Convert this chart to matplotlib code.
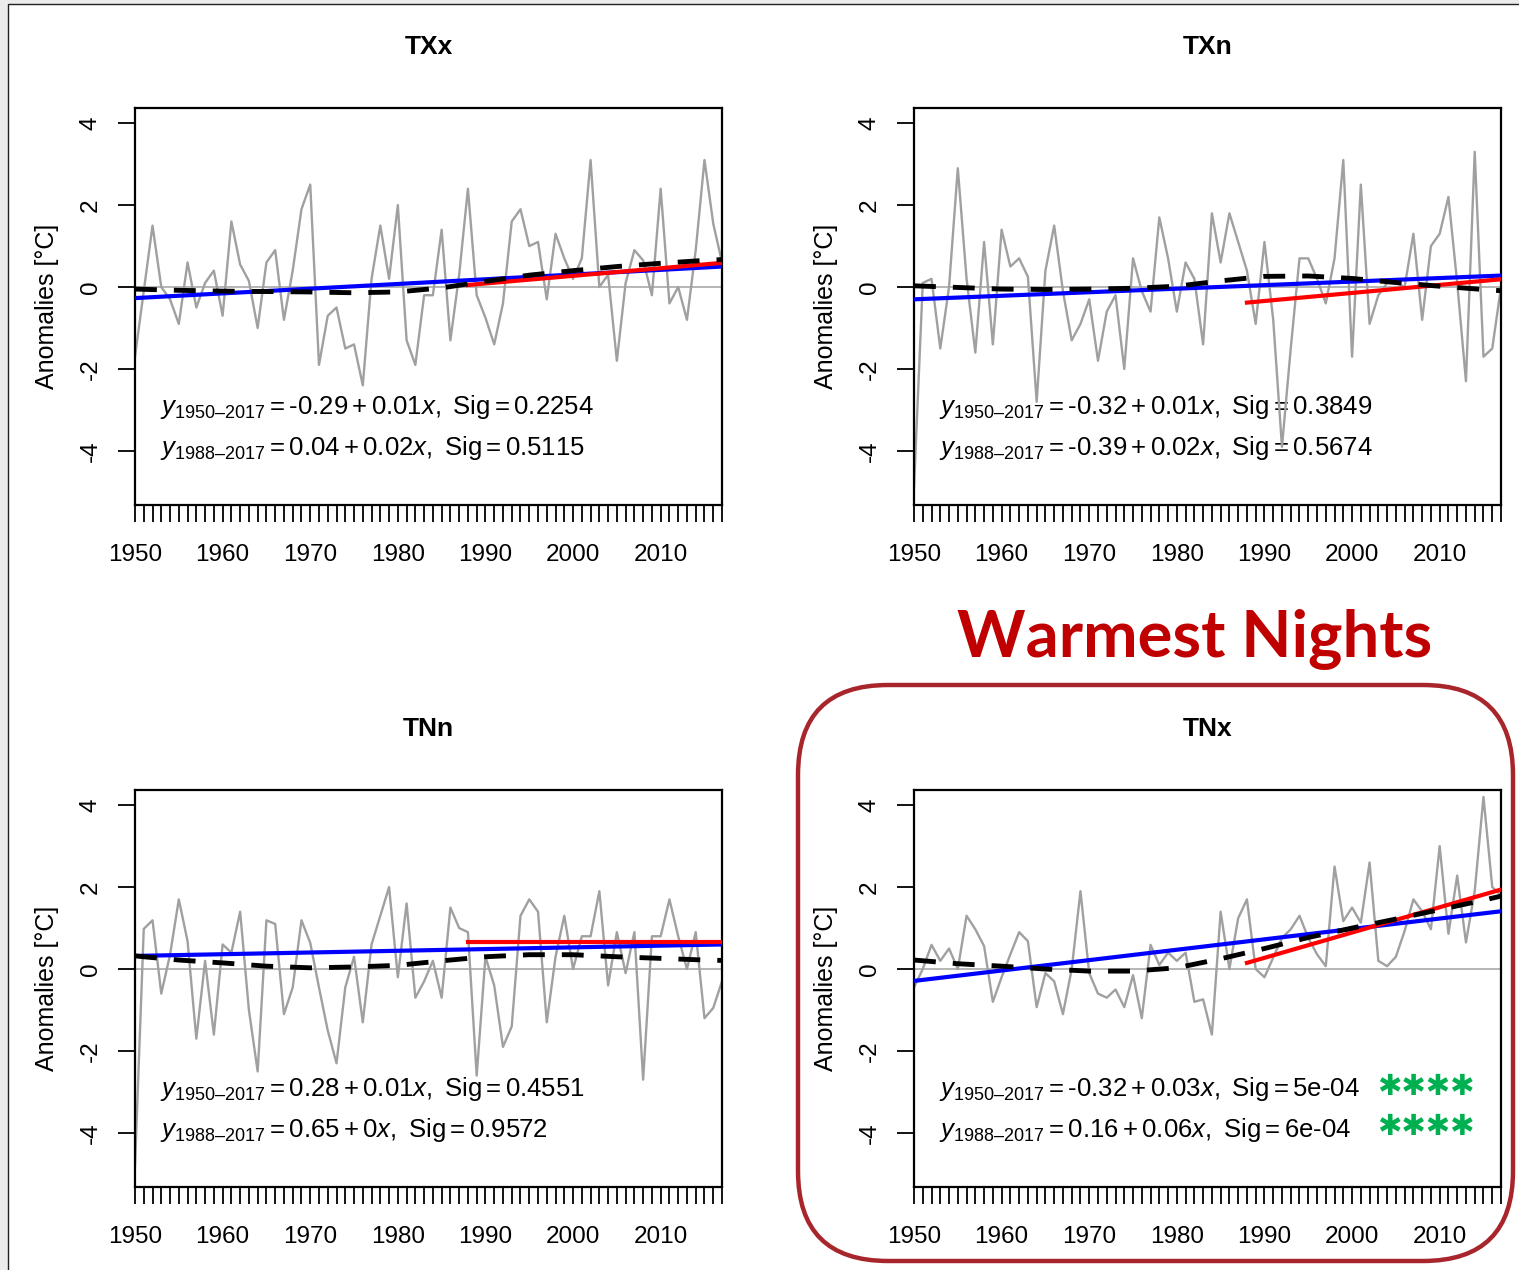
import numpy as np
import matplotlib
matplotlib.use('Agg')
import matplotlib.pyplot as plt
from matplotlib.patches import Rectangle, FancyBboxPatch

plt.rcParams['font.family'] = ['Liberation Sans', 'DejaVu Sans']
plt.rcParams['mathtext.fontset'] = 'custom'
plt.rcParams['mathtext.rm'] = 'Liberation Sans'
plt.rcParams['mathtext.it'] = 'Liberation Sans:italic'

# ---- data ----
years = list(range(1950, 2018))

txx = [-1.7, -0.1, 1.5, 0.0, -0.3, -0.9, 0.6, -0.5, 0.1, 0.4,
       -0.7, 1.6, 0.55, 0.15, -1.0, 0.6, 0.9, -0.8, 0.4, 1.9,
       2.5, -1.9, -0.7, -0.5, -1.5, -1.4, -2.4, 0.2, 1.5, 0.2,
       2.0, -1.3, -1.9, -0.2, -0.2, 1.4, -1.3, 0.3, 2.4, -0.2,
       -0.75, -1.4, -0.4, 1.6, 1.9, 1.0, 1.1, -0.3, 1.3, 0.7,
       0.2, 0.7, 3.1, 0.0, 0.3, -1.8, 0.1, 0.9, 0.65, -0.2,
       2.4, -0.4, 0.0, -0.8, 0.9, 3.1, 1.55, 0.6]

txn = [-4.9, 0.1, 0.2, -1.5, 0.0, 2.9, 0.2, -1.6, 1.1, -1.4,
       1.4, 0.5, 0.7, 0.25, -2.8, 0.4, 1.5, -0.1, -1.3, -0.9,
       -0.3, -1.8, -0.6, -0.2, -2.0, 0.7, -0.1, -0.6, 1.7, 0.7,
       -0.6, 0.6, 0.2, -1.4, 1.8, 0.6, 1.8, 1.1, 0.4, -0.9,
       1.1, -0.8, -3.9, -1.5, 0.7, 0.7, 0.2, -0.4, 0.7, 3.1,
       -1.7, 2.5, -0.9, -0.2, 0.1, 0.1, 0.0, 1.3, -0.8, 1.0,
       1.3, 2.2, 0.1, -2.3, 3.3, -1.7, -1.5, 0.0]

tnn = [-4.8, 0.98, 1.19, -0.6, 0.35, 1.7, 0.68, -1.7, 0.2, -1.6,
       0.6, 0.4, 1.4, -1.0, -2.5, 1.19, 1.1, -1.1, -0.45, 1.19,
       0.64, -0.45, -1.5, -2.3, -0.45, 0.3, -1.3, 0.6, 1.3, 2.0,
       -0.2, 1.6, -0.7, -0.3, 0.2, -0.7, 1.5, 1.0, 0.9, -2.6,
       0.3, -0.4, -1.9, -1.4, 1.3, 1.7, 1.4, -1.3, 0.3, 1.3,
       0.0, 0.8, 0.8, 1.9, -0.4, 0.9, -0.1, 0.9, -2.7, 0.8,
       0.8, 1.7, 0.8, 0.0, 0.9, -1.2, -0.95, -0.3]

tnx = [-0.45, 0.0, 0.59, 0.2, 0.5, 0.0, 1.3, 0.97, 0.56, -0.8,
       -0.2, 0.36, 0.9, 0.68, -0.93, -0.1, -0.3, -1.1, 0.0, 1.9,
       -0.1, -0.6, -0.7, -0.5, -0.93, -0.15, -1.2, 0.59, 0.1, 0.4,
       0.2, 0.4, -0.8, -0.74, -1.6, 1.4, 0.0, 1.24, 1.7, 0.0,
       -0.2, 0.28, 0.76, 0.97, 1.3, 0.76, 0.36, 0.07, 2.5, 1.17,
       1.5, 1.13, 2.6, 0.2, 0.07, 0.3, 0.93, 1.7, 1.41, 0.97,
       3.0, 0.86, 2.28, 0.65, 1.9, 4.2, 2.0, 1.8]

# smoothed curve (dashed), read every 5 years
smooth_years = [1950, 1955, 1960, 1965, 1970, 1975, 1980, 1985,
                1990, 1995, 2000, 2005, 2010, 2015, 2017]
txx_smooth = [-0.05, -0.08, -0.1, -0.11, -0.12, -0.14, -0.12, -0.02,
              0.14, 0.29, 0.40, 0.50, 0.58, 0.65, 0.67]
txn_smooth = [0.03, -0.01, -0.05, -0.06, -0.05, -0.03, 0.02, 0.15,
              0.26, 0.27, 0.21, 0.11, 0.02, -0.06, -0.09]
tnn_smooth = [0.32, 0.22, 0.15, 0.07, 0.03, 0.05, 0.09, 0.20,
              0.30, 0.35, 0.35, 0.30, 0.26, 0.22, 0.21]
tnx_smooth = [0.22, 0.13, 0.07, 0.0, -0.05, -0.05, 0.03, 0.25,
              0.50, 0.77, 1.0, 1.22, 1.45, 1.68, 1.78]

# linear trends: values at the period ends
full_period = [1950, 2017]
recent_period = [1988, 2017]
txx_full, txx_recent = [-0.27, 0.50], [0.05, 0.59]
txn_full, txn_recent = [-0.30, 0.28], [-0.38, 0.19]
tnn_full, tnn_recent = [0.32, 0.60], [0.66, 0.66]
tnx_full, tnx_recent = [-0.29, 1.41], [0.15, 1.94]

titles = ['TXx', 'TXn', 'TNn', 'TNx']
eq_full = [('-0.29', '0.01', '0.2254'), ('-0.32', '0.01', '0.3849'),
           ('0.28', '0.01', '0.4551'), ('-0.32', '0.03', '5e-04')]
eq_recent = [('0.04', '0.02', '0.5115'), ('-0.39', '0.02', '0.5674'),
             ('0.65', '0', '0.9572'), ('0.16', '0.06', '6e-04')]

series = [txx, txn, tnn, tnx]
smooths = [txx_smooth, txn_smooth, tnn_smooth, tnx_smooth]
fulls = [txx_full, txn_full, tnn_full, tnx_full]
recents = [txx_recent, txn_recent, tnn_recent, tnx_recent]

# ---- figure ----
W, H = 1519, 1270
fig = plt.figure(figsize=(W / 100, H / 100), dpi=100)
fig.patch.set_facecolor('#ececec')

# white page with thin frame
fig.patches.append(Rectangle((0.08, -0.2), 15.5, 12.86, transform=fig.dpi_scale_trans,
                             facecolor='white', edgecolor='#222222', linewidth=1.0, zorder=-10))

# rounded highlight box round TNx
fig.patches.append(FancyBboxPatch((7.98 + 0.9, 0.09 + 0.9), 7.15 - 1.8, 5.76 - 1.8,
                                  boxstyle='round,pad=0.9', transform=fig.dpi_scale_trans,
                                  facecolor='none', edgecolor='#a8262b', linewidth=3.2, zorder=5))

boxes = [(135, 108, 722, 505), (914, 108, 1501, 505),
         (135, 790, 722, 1187), (914, 790, 1501, 1187)]

DASH = '\u2013'


def mt(s):
    # plain hyphen in mathtext (avoid minus sign and operator spacing)
    return r'\mathrm{' + s.replace('-', '\u2010') + '}'


for i, (l, t, r, b) in enumerate(boxes):
    ax = fig.add_axes([l / W, 1 - b / H, (r - l) / W, (b - t) / H])
    ax.set_xlim(1950, 2017)
    ax.set_ylim(-5.32, 4.37)

    ax.axhline(0, color='#b0b0b0', linewidth=1.3, zorder=1)
    ax.plot(years, series[i], color='#a0a0a0', linewidth=1.7, zorder=2)
    ax.plot(full_period, fulls[i], color='#0000ff', linewidth=3.0, zorder=3)
    ax.plot(recent_period, recents[i], color='#ff0000', linewidth=3.0, zorder=4)
    ax.plot(smooth_years, smooths[i], color='black', linewidth=3.5,
            dashes=(4.5, 3.5), zorder=5)

    for (yr0, yv), eq in zip([('1950', -2.93), ('1988', -3.93)], [eq_full[i], eq_recent[i]]):
        a, s, p = eq
        label = (r'$y_{\mathrm{' + yr0 + DASH + r'2017}} = ' + mt(a) + ' + ' + mt(s) +
                 r'x,\ \mathrm{Sig} = ' + mt(p) + '$')
        ax.text(1952.8, yv, label, fontsize=18.5, ha='left', va='center', zorder=1)

    ax.set_yticks([-4, -2, 0, 2, 4])
    ax.set_yticklabels(['-4', '-2', '0', '2', '4'], rotation=90, va='center')
    ax.set_xticks(range(1950, 2011, 10))
    ax.set_xticks(years, minor=True)
    ax.tick_params(axis='both', which='both', direction='out', length=12,
                   width=1.3, labelsize=17.5, color='black')
    ax.tick_params(axis='x', which='both', pad=16)
    ax.tick_params(axis='y', pad=12)
    for sp in ax.spines.values():
        sp.set_linewidth(1.6)

    fig.text((l + r) / 2 / W, 1 - (t - 61) / H, titles[i], fontsize=19,
             fontweight='bold', ha='center', va='center')
    fig.text((l - 88) / W, 1 - (t + b) / 2 / H, 'Anomalies [°C]', fontsize=18,
             rotation=90, ha='center', va='center')

# significance stars
for yy in (1087, 1127):
    fig.text(1426 / W, 1 - yy / H, '\u2731\u2731\u2731\u2731', color='#00b050', fontsize=21,
             family=['DejaVu Sans'], ha='center', va='center')

fig.text(1195 / W, 1 - 640 / H, 'Warmest Nights', color='#c00000', fontsize=47,
         fontweight='bold', family=['Lato', 'DejaVu Sans'], ha='center', va='center')

fig.savefig('out.png', dpi=100, facecolor=fig.get_facecolor())
